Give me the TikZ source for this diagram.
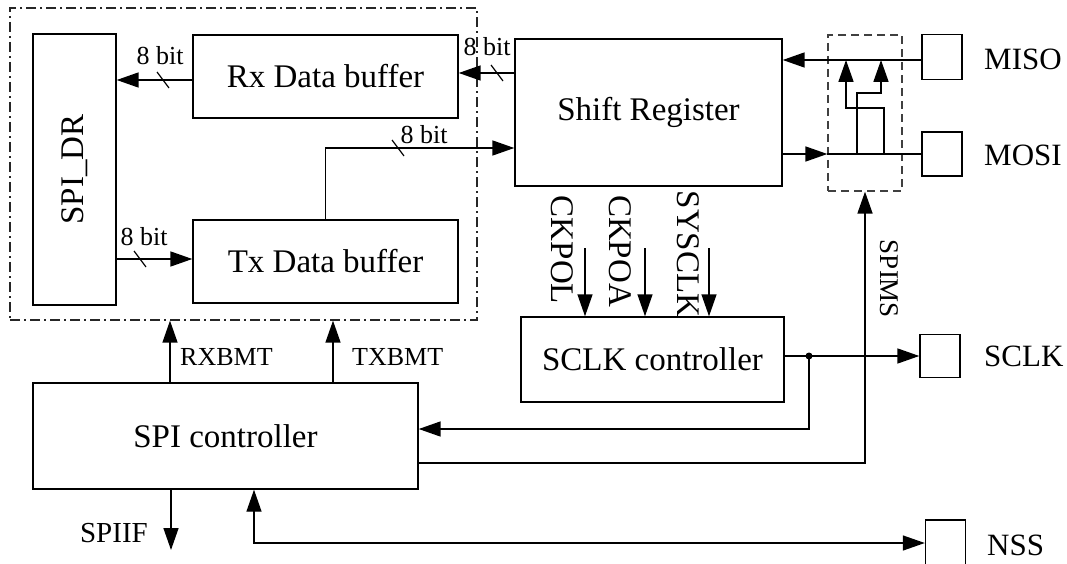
\documentclass[tikz,border=0pt]{standalone}
\usepackage{fontspec}
\setmainfont{Liberation Serif}
\usetikzlibrary{arrows.meta}
\begin{document}
\begin{tikzpicture}[x=1pt,y=-1pt]
\tikzset{
 blk/.style={draw=black,line width=1.4pt,inner sep=0pt,font=\fontsize{33}{38}\selectfont},
 pinbox/.style={draw=black,line width=1.4pt,inner sep=0pt,minimum width=40pt},
 conn/.style={line width=1.7pt},
 arr/.style={conn,-{Triangle[length=22pt,width=15pt]}},
 thinarr/.style={line width=1.4pt,-{Triangle[length=22pt,width=15pt]}},
 buslab/.style={font=\fontsize{26}{29}\selectfont,inner sep=0pt},
 lab/.style={font=\fontsize{31}{36}\selectfont,inner sep=0pt},
 rlab/.style={font=\fontsize{33}{38}\selectfont,inner sep=0pt,rotate=-90},
 slab/.style={font=\fontsize{26}{30}\selectfont,inner sep=0pt},
 slash/.style={line width=1.2pt},
}
\clip (0,0) rectangle (1067,564);
\fill[white] (0,0) rectangle (1067,564);

% blocks
\node[draw=black!85,line width=1.3pt,dash pattern=on 10pt off 4pt on 2pt off 4pt,
      minimum width=467pt,minimum height=312pt,inner sep=0pt] (buf) at (243.5,164) {};
\node[blk,minimum width=83pt,minimum height=271pt] (spidr) at (74.5,169.5) {\rotatebox{90}{SPI\_DR}};
\node[blk,minimum width=265pt,minimum height=83pt] (rx) at (325.5,76.5) {Rx Data buffer};
\node[blk,minimum width=265pt,minimum height=83pt] (tx) at (325.5,261.5) {Tx Data buffer};
\node[blk,minimum width=267pt,minimum height=147pt] (shift) at (648.5,112.5) {Shift Register};
\node[blk,minimum width=263pt,minimum height=85pt] (sclkc) at (652.5,359.5) {SCLK controller};
\node[blk,minimum width=385pt,minimum height=106pt] (spic) at (225.5,436) {SPI controller};
\node[draw=black!75,line width=1.3pt,dash pattern=on 8pt off 5pt,
      minimum width=74pt,minimum height=156pt,inner sep=0pt] (sw) at (865,113) {};

% pins
\node[pinbox,minimum height=45pt] (misob) at (942,57) {};
\node[pinbox,minimum height=44pt] (mosib) at (942,154) {};
\node[pinbox,minimum height=43pt] (sclkb) at (940,356) {};
\node[pinbox,minimum height=46pt] (nssb) at (945.5,543) {};
\node[lab,anchor=west] (misot) at (984,59) {MISO};
\node[lab,anchor=west] (mosit) at (984,155) {MOSI};
\node[lab,anchor=west] (sclkt) at (984,356) {SCLK};
\node[lab,anchor=west] (nsst) at (987,545) {NSS};

% anchor points shifted on block sides
\coordinate (rxout) at ([yshift=-3.5pt]rx.west);
\coordinate (rxin) at ([yshift=3.5pt]rx.east);
\coordinate (shtx) at ([yshift=-35.5pt]shift.west);
\coordinate (txin) at ([yshift=2.5pt]tx.west);
\coordinate (misoin) at ([yshift=-3pt]misob.west);
\coordinate (spicin) at ([yshift=7pt]spic.east);
\coordinate (spicout) at ([yshift=-27pt]spic.east);

% data buses
\draw[arr] (rxout) -- (rxout -| spidr.east);
\draw[arr] (rxin -| shift.west) -- (rxin);
\draw[arr] (tx.north) |- (shtx);
\draw[arr] (txin -| spidr.east) -- (txin);
\draw[slash] (163,80) ++(-6,-8) -- ++(12,16);
\draw[slash] (497,73) ++(-6,-8) -- ++(12,16);
\draw[slash] (398,148) ++(-6,-8) -- ++(12,16);
\draw[slash] (140,259) ++(-6,-8) -- ++(12,16);
\node[buslab] (b8a) at (160,56) {8 bit};
\node[buslab] (b8b) at (487,47) {8 bit};
\node[buslab] (b8c) at (424,135) {8 bit};
\node[buslab] (b8d) at (144,237) {8 bit};

% MISO / MOSI switch
\draw[arr] (misoin) -- (misoin -| shift.east);
\draw[arr] (shift.east |- mosib.west) -- (sw.west |- mosib.west);
\draw[conn] (sw.west |- mosib.west) -- (mosib.west);
\coordinate (br1) at (884,155);
\coordinate (br2) at (857,155);
\draw[arr] (br1) -- (884,108) -- (846,108) -- (846,60);
\draw[arr] (br2) -- (857,93) -- (881,93) -- (881,60);

% clock inputs
\coordinate (ck1) at (585,248);
\coordinate (ck2) at (645,248);
\coordinate (ck3) at (709,248);
\draw[thinarr] (ck1) -- (ck1 |- sclkc.north);
\draw[thinarr] (ck2) -- (ck2 |- sclkc.north);
\draw[thinarr] (ck3) -- (ck3 |- sclkc.north);
\node[rlab] (ckpol) at (562,250) {CKPOL};
\node[rlab] (ckpoa) at (620,251) {CKPOA};
\node[rlab] (sysclk) at (688,254) {SYSCLK};

% SCLK output
\coordinate (jn) at (809,356);
\draw[arr] (sclkc.east |- sclkb.west) -- (sclkb.west);
\fill (jn) circle (3.5pt);
\draw[arr] (jn) |- (spicin);
\draw[arr] (spicout) -| (sw.south);
\node[font=\fontsize{27}{30}\selectfont,inner sep=0pt,rotate=-90] (spims) at (889,279) {SPIMS};

% controller signals
\coordinate (rxb) at (170,0);
\coordinate (txb) at (333,0);
\draw[thinarr] (rxb |- spic.north) -- (rxb |- buf.south);
\draw[thinarr] (txb |- spic.north) -- (txb |- buf.south);
\node[slab,anchor=west] (rxbmt) at (180,357) {RXBMT};
\node[slab,anchor=west] (txbmt) at (352,357) {TXBMT};

\coordinate (spiif) at (171,550);
\draw[thinarr] (spiif |- spic.south) -- (spiif);
\node[font=\fontsize{29}{32}\selectfont,inner sep=0pt,anchor=east] (spiift) at (148,533) {SPIIF};

\coordinate (nssx) at (254,0);
\draw[line width=1.4pt,{Triangle[length=22pt,width=15pt]}-{Triangle[length=22pt,width=15pt]}]
  (nssx |- spic.south) |- (nssb.west);
\end{tikzpicture}
\end{document}
